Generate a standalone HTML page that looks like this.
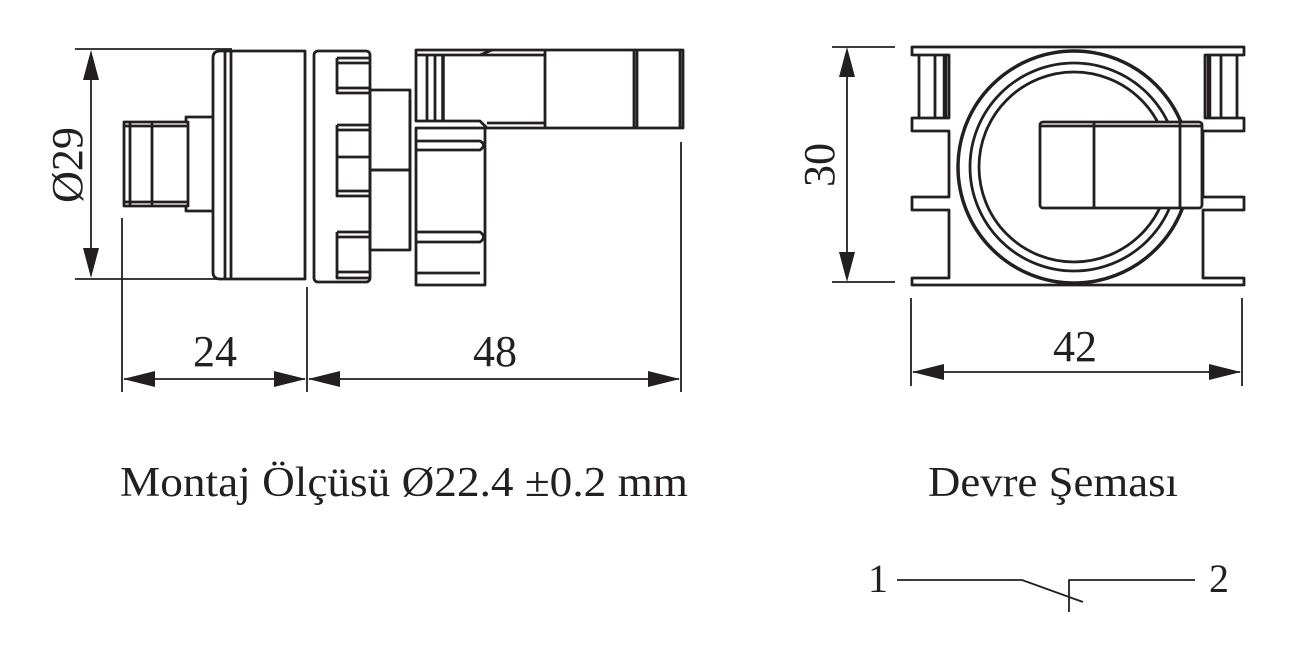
<!DOCTYPE html>
<html><head><meta charset="utf-8"><style>
html,body{margin:0;padding:0;background:#fff;}
svg{display:block;}
text{font-family:"Liberation Serif",serif;fill:#231f20;}
</style></head><body>
<svg width="1291" height="658" viewBox="0 0 1291 658" xmlns="http://www.w3.org/2000/svg">
<g fill="none" stroke="#231f20" stroke-width="2.8" stroke-linejoin="round">
<!-- ===== LEFT VIEW ===== -->
<line x1="75" y1="49" x2="232" y2="49" stroke-width="1.8"/>
<line x1="75" y1="279" x2="232" y2="279" stroke-width="1.8"/>
<line x1="91" y1="60" x2="91" y2="268" stroke-width="1.8"/>
<!-- knob -->
<rect x="124" y="122" width="64" height="84"/>
<line x1="124" y1="126" x2="188" y2="126"/>
<line x1="124" y1="202" x2="188" y2="202"/>
<line x1="130" y1="122" x2="130" y2="206"/>
<line x1="152" y1="122" x2="152" y2="206"/>
<path d="M186 122 V117 H213 M186 206 V211 H213"/>
<!-- cap -->
<path d="M220 51 H305 V279 H220 Q213 279 213 272 V58 Q213 51 220 51 Z"/>
<line x1="225" y1="51" x2="225" y2="279"/>
<line x1="231" y1="51" x2="231" y2="279"/>
<!-- ring -->
<rect x="314" y="51" width="56" height="231" rx="4"/>
<line x1="314" y1="90" x2="314" y2="250" stroke-dasharray="2 2" stroke-width="1"/>
<g>
<path d="M337 58 V93 H369 M337 58 H369 M337 63 H369 M337 88 H369"/>
<path d="M337 125 V196 H369 M337 125 H369 M337 130 H369 M337 157 H369 M337 191 H369"/>
<path d="M337 232 V278 H369 M337 232 H369 M337 237 H369 M337 272 H369"/>
</g>
<!-- collar -->
<rect x="370" y="90" width="40" height="80"/>
<rect x="370" y="170" width="40" height="80"/>
<line x1="410" y1="100" x2="410" y2="250"/>
<!-- right block lower -->
<path d="M416 128 H485 V285 H416 Z"/>
<path d="M416 150 H480 Q487 145 480 141 H416"/>
<path d="M416 232 H480 Q487 237 480 242 H416"/>
<path d="M416 273 H480"/>
<!-- lever -->
<path d="M416 50 H683 V128 H487 L480 121 H416 Z"/>
<line x1="416" y1="55" x2="480" y2="55"/>
<line x1="480" y1="55" x2="492" y2="50"/>
<line x1="487" y1="123" x2="545" y2="123"/>
<line x1="480" y1="55" x2="545" y2="55"/>
<line x1="427" y1="55" x2="427" y2="121"/>
<line x1="435" y1="55" x2="435" y2="121"/>
<line x1="443" y1="55" x2="443" y2="121" stroke-width="3.5"/>
<line x1="545" y1="50" x2="545" y2="128"/>
<line x1="634" y1="50" x2="634" y2="128"/>
<line x1="637" y1="50" x2="637" y2="128"/>
<line x1="680" y1="50" x2="680" y2="128"/>
<!-- extension lines -->
<line x1="122" y1="218" x2="122" y2="392" stroke-width="1.8"/>
<line x1="307" y1="287" x2="307" y2="392" stroke-width="1.8"/>
<line x1="681" y1="142" x2="681" y2="392" stroke-width="1.8"/>
<line x1="124" y1="379" x2="305" y2="379" stroke-width="1.8"/>
<line x1="309" y1="379" x2="679" y2="379" stroke-width="1.8"/>

<!-- ===== RIGHT VIEW ===== -->
<line x1="832" y1="47" x2="895" y2="47" stroke-width="1.8"/>
<line x1="832" y1="282" x2="895" y2="282" stroke-width="1.8"/>
<line x1="847" y1="58" x2="847" y2="270" stroke-width="1.8"/>
<path d="M912 47 H1244 V55 H1237 V118 H1244 V131 H1203 V197 H1244 V210 H1203 V278 H1244 V285 H912 V278 H949 V210 H912 V197 H949 V131 H912 V118 H919 V55 H912 Z"/>
<path d="M919 55 H949 V118 H919"/>
<line x1="935" y1="55" x2="935" y2="118"/>
<line x1="945" y1="55" x2="945" y2="118" stroke-width="4.5"/>
<path d="M1237 55 H1205 V118 H1237"/>
<line x1="1221" y1="55" x2="1221" y2="118"/>
<line x1="1209" y1="55" x2="1209" y2="118" stroke-width="4.5"/>
<circle cx="1074" cy="167" r="116" stroke-width="3.5"/>
<circle cx="1074" cy="167" r="104"/>
<circle cx="1074" cy="167" r="95"/>
<rect x="1040" y="122" width="162" height="86" rx="3" fill="#fff"/>
<line x1="1094" y1="122" x2="1094" y2="208"/>
<line x1="1180" y1="122" x2="1180" y2="208"/>
<line x1="1040" y1="126" x2="1094" y2="126"/>
<line x1="1094" y1="126" x2="1202" y2="126"/>
<line x1="911" y1="298" x2="911" y2="386" stroke-width="1.8"/>
<line x1="1242" y1="298" x2="1242" y2="386" stroke-width="1.8"/>
<line x1="913" y1="372" x2="1240" y2="372" stroke-width="1.8"/>

<path d="M897 580 H1022 L1083 602" stroke-width="1.8"/>
<path d="M1069 612 V580 H1195" stroke-width="1.8"/>
</g>
<g fill="#231f20">
<polygon points="91,50 83,80 99,80"/>
<polygon points="91,278 83,248 99,248"/>
<polygon points="847,47 839,77 855,77"/>
<polygon points="847,282 839,252 855,252"/>
<polygon points="123,379 155,371 155,387"/>
<polygon points="306,379 274,371 274,387"/>
<polygon points="308,379 340,371 340,387"/>
<polygon points="680,379 648,371 648,387"/>
<polygon points="912,372 944,364 944,380"/>
<polygon points="1241,372 1209,364 1209,380"/>
</g>
<text x="0" y="0" font-size="44" transform="translate(82,165) rotate(-90)" text-anchor="middle">Ø29</text>
<text x="0" y="0" font-size="44" transform="translate(834,165) rotate(-90)" text-anchor="middle">30</text>
<text x="215" y="366" font-size="44" text-anchor="middle">24</text>
<text x="495" y="366" font-size="44" text-anchor="middle">48</text>
<text x="1075" y="361" font-size="44" text-anchor="middle">42</text>
<text x="120" y="496" font-size="42" textLength="568" lengthAdjust="spacingAndGlyphs">Montaj Ölçüsü Ø22.4 ±0.2 mm</text>
<text x="928" y="496" font-size="42" textLength="250" lengthAdjust="spacingAndGlyphs">Devre Şeması</text>
<text x="878" y="592" font-size="40" text-anchor="middle">1</text>
<text x="1219" y="592" font-size="40" text-anchor="middle">2</text>
</svg>
</body></html>
